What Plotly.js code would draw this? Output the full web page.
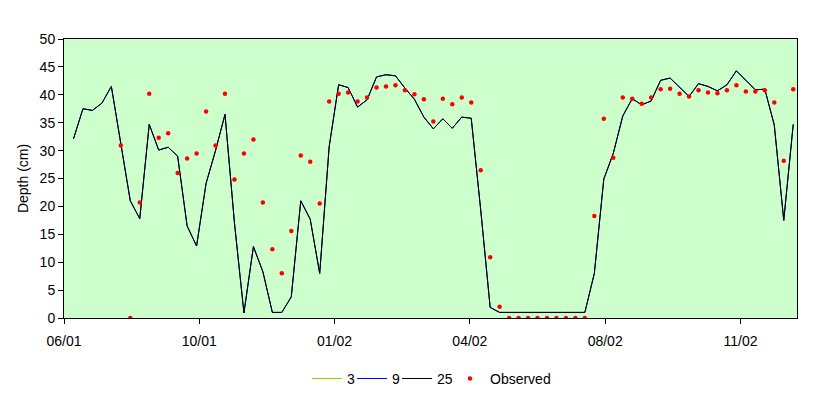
<!DOCTYPE html>
<html>
<head>
<meta charset="utf-8">
<script src="https://cdn.plot.ly/plotly-3.0.1.min.js"></script>
<style>html,body{margin:0;padding:0;background:#fff;}#chart{width:831px;height:398px;}</style>
</head>
<body>
<div id="chart"></div>
<script>
// Weekly sample dates
const dates = [
 '2001-07-05','2001-07-12','2001-07-19','2001-07-26','2001-08-02','2001-08-09','2001-08-16','2001-08-23','2001-08-30',
 '2001-09-06','2001-09-13','2001-09-20','2001-09-27','2001-10-04','2001-10-11','2001-10-18','2001-10-25','2001-11-01',
 '2001-11-08','2001-11-15','2001-11-22','2001-11-29','2001-12-06','2001-12-13','2001-12-20','2001-12-27','2002-01-03',
 '2002-01-10','2002-01-17','2002-01-24','2002-01-31','2002-02-07','2002-02-14','2002-02-21','2002-02-28','2002-03-07',
 '2002-03-14','2002-03-21','2002-03-28','2002-04-04','2002-04-11','2002-04-18','2002-04-25','2002-05-02','2002-05-09',
 '2002-05-16','2002-05-23','2002-05-30','2002-06-06','2002-06-13','2002-06-20','2002-06-27','2002-07-04','2002-07-11',
 '2002-07-18','2002-07-25','2002-08-01','2002-08-08','2002-08-15','2002-08-22','2002-08-29','2002-09-05','2002-09-12',
 '2002-09-19','2002-09-26','2002-10-03','2002-10-10','2002-10-17','2002-10-24','2002-10-31','2002-11-07','2002-11-14',
 '2002-11-21','2002-11-28','2002-12-05','2002-12-12','2002-12-19'
];

// Modelled depth (cm); the 3 and 9 series lie under the 25 series
const depth25 = [
 32.1,37.5,37.2,38.5,41.5,31.0,21.0,17.8,34.7,30.1,30.6,29.0,16.5,12.9,24.1,30.0,36.5,17.0,0.9,12.8,
 8.3,1.0,1.0,3.8,21.0,17.7,8.0,30.7,41.8,41.3,37.8,39.1,43.2,43.6,43.4,41.2,39.2,36.0,33.9,35.7,
 34.0,36.0,35.8,19.4,1.9,1.0,1.0,1.0,1.0,1.0,1.0,1.0,1.0,1.0,1.0,8.0,24.9,29.5,36.2,39.3,
 38.2,38.9,42.6,43.0,41.4,39.7,42.0,41.5,40.7,41.8,44.3,42.6,40.9,41.0,34.6,17.5,34.7
];
const depth9 = depth25.slice();
const depth3 = depth25.slice();

// Observed depth (cm)
const observed = [
 null,null,null,null,null,30.9,0,20.7,40.2,32.3,33.1,26.0,28.6,29.5,37.0,30.9,40.2,24.8,29.5,32.0,
 20.7,12.3,8.0,15.6,29.1,28.0,20.5,38.8,40.2,40.4,38.8,39.5,41.3,41.5,41.7,40.8,40.1,39.2,35.2,39.3,
 38.3,39.5,38.6,26.5,10.9,2.0,0,0,0,0,0,0,0,0,0,18.3,35.7,28.7,39.5,39.3,
 38.4,39.5,41.0,41.1,40.2,39.7,40.8,40.4,40.3,40.8,41.7,40.6,40.6,40.8,38.6,28.2,41.0
];

const tickDates = ['2001-06-28','2001-10-06','2002-01-14','2002-04-24','2002-08-02','2002-11-10'];
const tickLabels = ['06/01','10/01','01/02','04/02','08/02','11/02'];

const font = {family:'Arial, "Liberation Sans", sans-serif', size:14, color:'#000'};

const traces = [
 {x:dates, y:depth3, name:'3', type:'scatter', mode:'lines', line:{color:'#99cc00', width:1}, legend:'legend'},
 {x:dates, y:depth9, name:'9', type:'scatter', mode:'lines', line:{color:'#0000ff', width:1}, legend:'legend2'},
 {x:dates, y:depth25, name:'25', type:'scatter', mode:'lines', line:{color:'#000000', width:1}, legend:'legend3'},
 {x:dates, y:observed, name:'Observed', type:'scatter', mode:'markers', marker:{color:'#ff0000', size:4.5}, legend:'legend4'}
];

function leg(x) {
  return {orientation:'h', x:x, xanchor:'left', yref:'container', y:0.048, yanchor:'middle', font:font,
          itemwidth:30, bgcolor:'rgba(0,0,0,0)'};
}

const layout = {
 width:831, height:398,
 margin:{l:64, r:34, t:39, b:80},
 paper_bgcolor:'#ffffff', plot_bgcolor:'#ccffcc',
 font:font,
 showlegend:true,
 legend:leg(0.3315), legend2:leg(0.3929), legend3:leg(0.4543), legend4:leg(0.5266),
 xaxis:{type:'date', range:['2001-06-28','2002-12-21 19:00'], tickmode:'array', tickvals:tickDates, ticktext:tickLabels,
   showgrid:false, zeroline:false, showline:true, mirror:true, linecolor:'#000', linewidth:1,
   ticks:'outside', ticklen:5, tickcolor:'#000', tickfont:font, ticklabelstandoff:5, automargin:false},
 yaxis:{range:[0,50], dtick:5, tick0:0, showgrid:false, zeroline:false, showline:true, mirror:true, linecolor:'#000', linewidth:1,
   ticks:'outside', ticklen:5, tickcolor:'#000', tickfont:font, automargin:false,
   title:{text:'Depth (cm)', font:font, standoff:7}}
};

Plotly.newPlot('chart', traces, layout, {displayModeBar:false, staticPlot:true});
</script>
</body>
</html>
